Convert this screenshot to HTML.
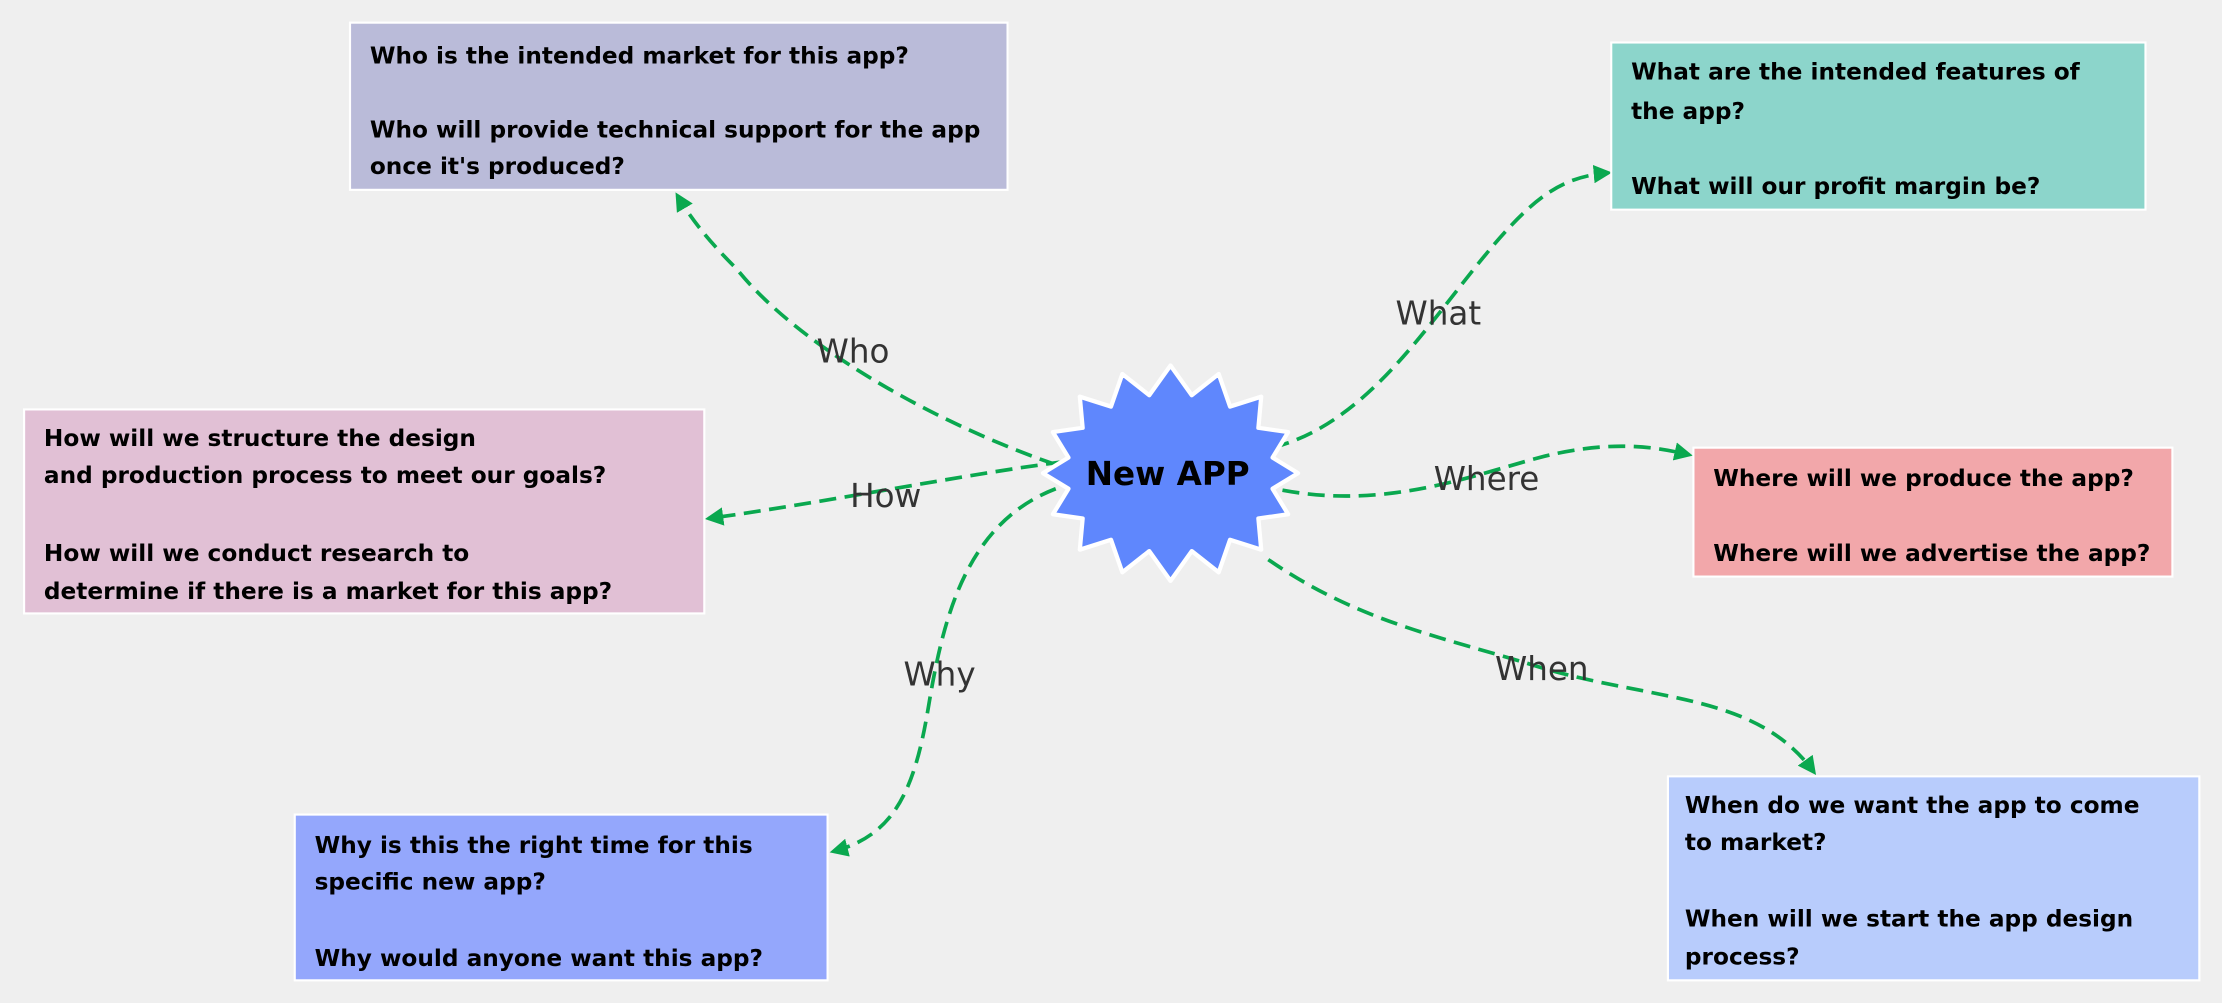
<!DOCTYPE html>
<html><head><meta charset="utf-8"><style>
html,body{margin:0;padding:0;background:#efefef;}
svg{display:block}
.t{font-family:"DejaVu Sans","Liberation Sans",sans-serif;font-weight:bold;font-size:16.4px;fill:#000}
.l{font-family:"DejaVu Sans","Liberation Sans",sans-serif;font-size:23px;fill:#333}
.c{fill:none;stroke:#0aa84f;stroke-width:2.6;stroke-dasharray:12 6;marker-end:url(#ah)}
</style></head><body>
<svg width="2222" height="1003" viewBox="0 0 1568 708" preserveAspectRatio="none">
<defs><marker id="ah" viewBox="0 0 10 10" refX="8" refY="5" markerWidth="5" markerHeight="5" orient="auto" markerUnits="strokeWidth"><path d="M0,0 L10,5 L0,10 Z" fill="#0aa84f"/></marker></defs>
<rect width="1568" height="708" fill="#efefef"/>
<path class="c" d="M745,328 C650,295 560,240 520,190 C500,170 488,155 478,138"/>
<path class="c" d="M898,316 C960,300 1000,240 1040,190 C1080,140 1100,125 1135,122"/>
<path class="c" d="M905,346 C980,360 1040,335 1090,322 C1140,310 1170,316 1192,321"/>
<path class="c" d="M750,326 C680,335 580,355 500,366"/>
<path class="c" d="M745,345 C680,370 665,440 655,500 C645,560 630,590 588,601"/>
<path class="c" d="M895,395 C960,440 1020,450 1090,472 C1170,495 1240,490 1280,545"/>
<polygon points="916,334 898,345 909,363 888,366 890,388 868,381 860,404 841,389 826,410 811,389 792,404 784,381 762,388 764,366 743,363 754,345 736,334 754,323 743,305 764,302 762,280 784,287 792,264 811,279 826,258 841,279 860,264 868,287 890,280 888,302 909,305 898,323" fill="#5f87fd" stroke="#fff" stroke-width="3" stroke-linejoin="round"/>
<text x="824" y="336" text-anchor="middle" dominant-baseline="middle" style="font-family:'DejaVu Sans',sans-serif;font-size:23px;font-weight:bold;fill:#000">New APP</text>
<text class="l" x="602" y="256" text-anchor="middle">Who</text>
<text class="l" x="1015" y="229" text-anchor="middle">What</text>
<text class="l" x="1049" y="346" text-anchor="middle">Where</text>
<text class="l" x="625" y="358" text-anchor="middle">How</text>
<text class="l" x="663" y="484" text-anchor="middle">Why</text>
<text class="l" x="1088" y="480" text-anchor="middle">When</text>
<rect x="247" y="16" width="464" height="118" fill="#babbd9" stroke="#fff" stroke-width="1.5"/>
<text class="t" x="261" y="45">Who is the intended market for this app?</text>
<text class="t" x="261" y="97">Who will provide technical support for the app</text>
<text class="t" x="261" y="123">once it's produced?</text>
<rect x="1137" y="30" width="377" height="118" fill="#8cd5cb" stroke="#fff" stroke-width="1.5"/>
<text class="t" x="1151" y="56">What are the intended features of</text>
<text class="t" x="1151" y="84">the app?</text>
<text class="t" x="1151" y="137">What will our profit margin be?</text>
<rect x="17" y="289" width="480" height="144" fill="#e1c0d5" stroke="#fff" stroke-width="1.5"/>
<text class="t" x="31" y="315">How will we structure the design</text>
<text class="t" x="31" y="341">and production process to meet our goals?</text>
<text class="t" x="31" y="396">How will we conduct research to</text>
<text class="t" x="31" y="423">determine if there is a market for this app?</text>
<rect x="1195" y="316" width="338" height="91" fill="#f2a7aa" stroke="#fff" stroke-width="1.5"/>
<text class="t" x="1209" y="343">Where will we produce the app?</text>
<text class="t" x="1209" y="396">Where will we advertise the app?</text>
<rect x="208" y="575" width="376" height="117" fill="#94a7fc" stroke="#fff" stroke-width="1.5"/>
<text class="t" x="222" y="602">Why is this the right time for this</text>
<text class="t" x="222" y="628">specific new app?</text>
<text class="t" x="222" y="682">Why would anyone want this app?</text>
<rect x="1177" y="548" width="375" height="144" fill="#b8ccfc" stroke="#fff" stroke-width="1.5"/>
<text class="t" x="1189" y="574">When do we want the app to come</text>
<text class="t" x="1189" y="600">to market?</text>
<text class="t" x="1189" y="654">When will we start the app design</text>
<text class="t" x="1189" y="681">process?</text>
</svg>
</body></html>
